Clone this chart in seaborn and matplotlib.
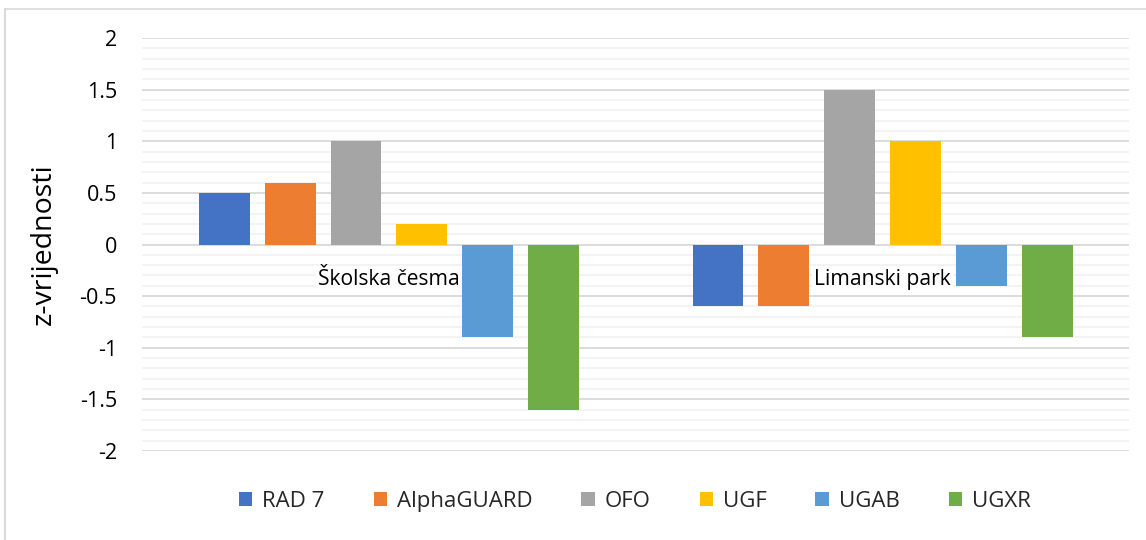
import matplotlib
matplotlib.use("Agg")
import matplotlib.pyplot as plt
from matplotlib.lines import Line2D
from matplotlib.ticker import MultipleLocator
import seaborn as sns
import pandas as pd

# ---- data ----
locations = ["Školska česma", "Limanski park"]
instruments = ["RAD 7", "AlphaGUARD", "OFO", "UGF", "UGAB", "UGXR"]
skolska_cesma = [0.5, 0.6, 1.0, 0.2, -0.9, -1.6]
limanski_park = [-0.6, -0.6, 1.5, 1.0, -0.4, -0.9]
colors = ["#4472C4", "#ED7D31", "#A5A5A5", "#FFC000", "#5B9BD5", "#70AD47"]
y_ticks = [-2, -1.5, -1, -0.5, 0, 0.5, 1, 1.5, 2]
y_tick_labels = ["-2", "-1.5", "-1", "-0.5", "0", "0.5", "1", "1.5", "2"]
y_label = "z-vrijednosti"

rows = []
for loc, vals in zip(locations, [skolska_cesma, limanski_park]):
    for inst, v in zip(instruments, vals):
        rows.append({"location": loc, "instrument": inst, "z": v})
df = pd.DataFrame(rows)

sns.set_theme(style="white")
plt.rcParams["font.family"] = ["Open Sans", "DejaVu Sans"]

fig = plt.figure(figsize=(11.46, 5.40), dpi=100)
ax = fig.add_axes([0.1239, 0.1648, 0.8617, 0.7648])

sns.barplot(data=df, x="location", y="z", hue="instrument", order=locations,
            hue_order=instruments, palette=colors, width=0.8, gap=0.227,
            saturation=1, ax=ax, legend=True, errorbar=None, zorder=3,
            linewidth=0)

ax.set_ylim(-2, 2)
ax.set_xlim(-0.5, 1.5)
ax.yaxis.set_minor_locator(MultipleLocator(0.1))
ax.set_yticks(y_ticks)
ax.set_yticklabels(y_tick_labels, fontsize=15.5, color="black")
ax.grid(axis="y", which="major", color="#d9d9d9", linewidth=1.3, zorder=0)
ax.grid(axis="y", which="minor", color="#f2f2f2", linewidth=1.3, zorder=0)
ax.set_axisbelow(True)
ax.tick_params(axis="y", which="both", length=0, pad=18)
ax.tick_params(axis="x", length=0)
ax.set_xticklabels([])
ax.set_xlabel("")
ax.set_ylabel(y_label, fontsize=20.5, color="black", labelpad=16)
for s in ax.spines.values():
    s.set_visible(False)

# category labels placed just below the zero line
for i, loc in enumerate(locations):
    ax.text(i, -0.335, loc, ha="center", va="center", fontsize=15.2, color="black",
            bbox=dict(facecolor="white", edgecolor="none", pad=1.5), zorder=2)

handles, labels = ax.get_legend_handles_labels()
ax.get_legend().remove()
fig.legend(handles, labels, loc="center", bbox_to_anchor=(0.554, 0.072), ncol=6,
           frameon=False, fontsize=16, handlelength=0.6, handleheight=0.6,
           handletextpad=0.45, columnspacing=2.2)

# chart frame (top and left edges)
fig.add_artist(Line2D([4.5 / 1146, 1.0], [1 - 9 / 540, 1 - 9 / 540],
                      transform=fig.transFigure, color="#d9d9d9", linewidth=1.2))
fig.add_artist(Line2D([4.5 / 1146, 4.5 / 1146], [0.0, 1 - 9 / 540],
                      transform=fig.transFigure, color="#d9d9d9", linewidth=1.5))

fig.savefig("out.png", dpi=100)
